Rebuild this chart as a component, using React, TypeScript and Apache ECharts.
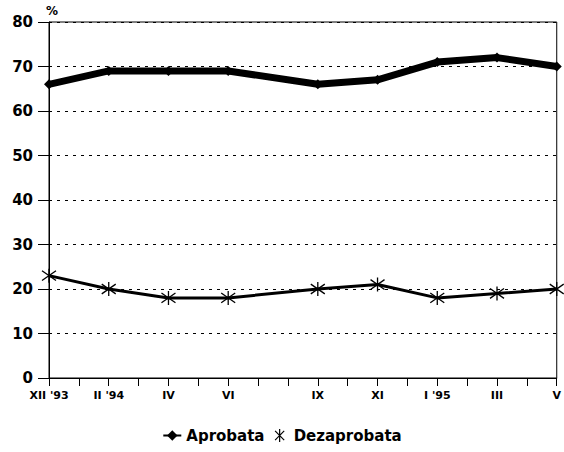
import React, { useEffect, useRef } from "react";
import * as echarts from "echarts";

const monthIndex = [0, 2, 4, 6, 9, 11, 13, 15, 17];
const monthLabels = ["XII '93", "II '94", "IV", "VI", "IX", "XI", "I '95", "III", "V"];
const aprobata = [66, 69, 69, 69, 66, 67, 71, 72, 70];
const dezaprobata = [23, 20, 18, 18, 20, 21, 18, 19, 20];

const FONT = "'DejaVu Sans', 'Liberation Sans', Arial, sans-serif";
const ASTERISK = "path://M5,0L5,10M1.5,1.5L8.5,8.5M1.5,8.5L8.5,1.5";

export default function App() {
  const ref = useRef<HTMLDivElement>(null);
  useEffect(() => {
    if (!ref.current) return;
    const chart = echarts.init(ref.current, undefined, { renderer: "svg" });
    const labelMap: Record<number, string> = {};
    monthIndex.forEach((m, i) => (labelMap[m] = monthLabels[i]));
    chart.setOption({
      animation: false,
      backgroundColor: "#fff",
      grid: {
        left: 49,
        right: 4,
        top: 22,
        bottom: 74,
        show: true,
        borderColor: "#000",
        borderWidth: 1,
        backgroundColor: "transparent",
      },
      graphic: [
        {
          type: "text",
          left: 46,
          top: 5,
          style: { text: "%", font: `bold 12px ${FONT}`, fill: "#000" },
        },
      ],
      legend: {
        bottom: 4,
        left: "center",
        itemWidth: 18,
        itemHeight: 13,
        itemGap: 10,
        textStyle: { fontFamily: FONT, fontWeight: "bold", fontSize: 15, color: "#000" },
        data: [
          { name: "Aprobata", lineStyle: { width: 2, color: "#000" } },
          { name: "Dezaprobata", icon: ASTERISK, itemStyle: { color: "transparent", borderColor: "#000", borderWidth: 1.2 } },
        ],
      },
      xAxis: {
        type: "value",
        min: 0,
        max: 17,
        interval: 1,
        axisLine: { show: true, lineStyle: { color: "#000", width: 1 } },
        axisTick: { show: true, length: 8, lineStyle: { color: "#000" } },
        splitLine: { show: false },
        axisLabel: {
          margin: 12,
          fontFamily: FONT,
          fontWeight: "bold",
          fontSize: 11,
          color: "#000",
          showMinLabel: true,
          showMaxLabel: true,
          formatter: (v: number) => labelMap[v] ?? "",
        },
      },
      yAxis: {
        type: "value",
        min: 0,
        max: 80,
        interval: 10,
        axisLine: { show: true, lineStyle: { color: "#000", width: 1 } },
        axisTick: { show: true, length: 11, lineStyle: { color: "#000" } },
        splitLine: { show: true, lineStyle: { color: "#000", type: [3, 5], width: 1 } },
        axisLabel: {
          margin: 16,
          fontFamily: FONT,
          fontWeight: "bold",
          fontSize: 15,
          color: "#000",
        },
      },
      series: [
        {
          name: "Aprobata",
          type: "line",
          data: monthIndex.map((m, i) => [m, aprobata[i]]),
          symbol: "diamond",
          symbolSize: 10,
          lineStyle: { color: "#000", width: 7 },
          itemStyle: { color: "#000" },
        },
        {
          name: "Dezaprobata",
          type: "line",
          data: monthIndex.map((m, i) => [m, dezaprobata[i]]),
          symbol: ASTERISK,
          symbolSize: 14,
          lineStyle: { color: "#000", width: 3 },
          itemStyle: { color: "transparent", borderColor: "#000", borderWidth: 1.3 },
        },
      ],
    });
    return () => chart.dispose();
  }, []);
  return (
    <div
      ref={ref}
      style={{ position: "absolute", left: 0, top: 0, width: 564, height: 452 }}
    />
  );
}
